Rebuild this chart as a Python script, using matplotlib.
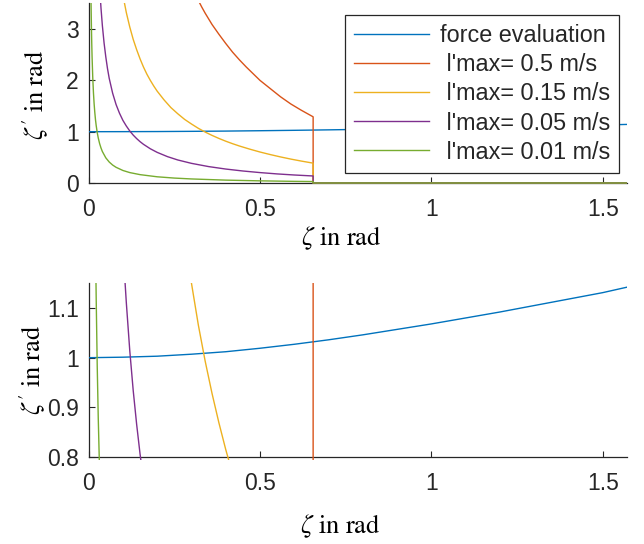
import numpy as np
import matplotlib
matplotlib.use('Agg')
import matplotlib.pyplot as plt
from matplotlib.patches import Rectangle

# ---------------- data ----------------
zeta_force = [0, 0.1, 0.2, 0.3, 0.4, 0.5, 0.6, 0.7, 0.8, 0.9, 1.0, 1.1, 1.2, 1.3,
              1.4, 1.5, 1.5708]
force_eval = [1.000, 1.001, 1.003, 1.007, 1.012, 1.019, 1.027, 1.036, 1.046, 1.057,
              1.068, 1.080, 1.092, 1.105, 1.118, 1.131, 1.142]

zeta_05 = [0.32, 0.33, 0.34, 0.36, 0.38, 0.40, 0.42, 0.44, 0.46, 0.48, 0.50, 0.53,
           0.56, 0.59, 0.62, 0.655, 0.655, 1.5708]
lmax_05 = [3.56, 3.43, 3.31, 3.09, 2.90, 2.72, 2.55, 2.40, 2.26, 2.13, 2.00, 1.84,
           1.68, 1.54, 1.42, 1.29, 0, 0]

zeta_015 = [0.10, 0.105, 0.11, 0.12, 0.13, 0.14, 0.15, 0.16, 0.17, 0.18, 0.19, 0.20,
            0.22, 0.24, 0.26, 0.28, 0.30, 0.32, 0.34, 0.36, 0.38, 0.40, 0.42, 0.44,
            0.47, 0.50, 0.53, 0.56, 0.59, 0.62, 0.655, 0.655, 1.5708]
lmax_015 = [3.66, 3.49, 3.32, 3.04, 2.80, 2.60, 2.42, 2.26, 2.12, 2.00, 1.89, 1.79,
            1.62, 1.47, 1.35, 1.24, 1.15, 1.066, 0.993, 0.928, 0.869, 0.815, 0.766,
            0.721, 0.660, 0.604, 0.554, 0.508, 0.466, 0.428, 0.387, 0, 0]

zeta_005 = [0.034, 0.036, 0.04, 0.045, 0.05, 0.055, 0.06, 0.07, 0.08, 0.09, 0.10,
            0.11, 0.12, 0.13, 0.14, 0.15, 0.16, 0.18, 0.20, 0.23, 0.26, 0.30, 0.35,
            0.40, 0.45, 0.50, 0.55, 0.60, 0.655, 0.655, 1.5708]
lmax_005 = [3.62, 3.41, 3.07, 2.73, 2.46, 2.23, 2.04, 1.75, 1.53, 1.36, 1.22,
            1.11, 1.014, 0.934, 0.866, 0.806, 0.754, 0.667, 0.597, 0.514, 0.449,
            0.383, 0.320, 0.272, 0.234, 0.203, 0.177, 0.156, 0.137, 0, 0]

zeta_001 = [0.007, 0.008, 0.009, 0.010, 0.012, 0.014, 0.016, 0.018, 0.020, 0.022,
            0.025, 0.028, 0.032, 0.036, 0.04, 0.05, 0.06, 0.07, 0.08, 0.10, 0.12,
            0.15, 0.20, 0.25, 0.30, 0.40, 0.50, 0.60, 0.655, 0.655, 1.5708]
lmax_001 = [3.51, 3.08, 2.73, 2.46, 2.05, 1.76, 1.54, 1.37, 1.23, 1.12,
            0.984, 0.879, 0.768, 0.683, 0.614, 0.491, 0.409, 0.350, 0.306, 0.244,
            0.203, 0.163, 0.121, 0.096, 0.079, 0.056, 0.042, 0.032, 0.028, 0, 0]

series_labels = ['force evaluation', " l'max= 0.5 m/s", " l'max= 0.15 m/s",
                 " l'max= 0.05 m/s", " l'max= 0.01 m/s"]
series_colors = ['#0072BD', '#D95319', '#EDB120', '#7E2F8E', '#77AC30']

xticks = [0, 0.5, 1, 1.5]
xtick_labels = ['0', '0.5', '1', '1.5']
yticks_top = [0, 1, 2, 3]
ytick_labels_top = ['0', '1', '2', '3']
yticks_bot = [0.8, 0.9, 1.0, 1.1]
ytick_labels_bot = ['0.8', '0.9', '1', '1.1']

xlabel_text = r'$\zeta\ \mathrm{in}\ \mathrm{rad}$'
ylabel_text = r"$\zeta'\ \mathrm{in}\ \mathrm{rad}$"

# ---------------- figure ----------------
plt.rcParams['font.family'] = ['Liberation Sans', 'DejaVu Sans']
plt.rcParams['mathtext.fontset'] = 'stix'

W, H = 644, 544
fig = plt.figure(figsize=(W / 100, H / 100), dpi=100)


def axes_px(l, r, t, b):
    return fig.add_axes([l / W, 1 - b / H, (r - l) / W, (b - t) / H])


ax1 = axes_px(88.65, 627, 3.45, 183)
ax2 = axes_px(88.65, 627, 283.2, 457)

xs = [zeta_force, zeta_05, zeta_015, zeta_005, zeta_001]
ys = [force_eval, lmax_05, lmax_015, lmax_005, lmax_001]

DARK = '#262626'
for ax, ylim, yt, ytl in ((ax1, (0, 3.5), yticks_top, ytick_labels_top),
                          (ax2, (0.8, 1.15), yticks_bot, ytick_labels_bot)):
    clip = Rectangle((0, -0.02), 1, 1.02, transform=ax.transAxes)
    for x, y, c, lab in zip(xs, ys, series_colors, series_labels):
        ln, = ax.plot(x, y, color=c, lw=1.0, label=lab, zorder=3)
        ln.set_clip_path(clip)
    ax.set_xlim(0, np.pi / 2)
    ax.set_ylim(*ylim)
    ax.set_xticks(xticks)
    ax.set_xticklabels(xtick_labels)
    ax.set_yticks(yt)
    ax.set_yticklabels(ytl)
    for s in ('top', 'right'):
        ax.spines[s].set_visible(False)
    for s in ('left', 'bottom'):
        ax.spines[s].set_color(DARK)
        ax.spines[s].set_linewidth(0.9)
    ax.tick_params(direction='in', length=4, width=0.8, color=DARK,
                   labelsize=16.5, labelcolor=DARK)
    ax.tick_params(axis='x', pad=10.5)
    ax.tick_params(axis='y', pad=7)

leg = ax1.legend(loc='upper left', bbox_to_anchor=(0.4762, 0.9357),
                 borderaxespad=0, fontsize=16.8, handlelength=3.2,
                 handletextpad=0.45, labelspacing=0.26, borderpad=0.4,
                 fancybox=False, framealpha=1, edgecolor=DARK)
leg.get_frame().set_linewidth(0.9)
for t in leg.get_texts():
    t.set_color(DARK)

lab_kw = dict(fontsize=19, color='black')
fig.text(341 / W, 1 - 245 / H, xlabel_text, ha='center', va='baseline', **lab_kw)
fig.text(340 / W, 1 - 533 / H, xlabel_text, ha='center', va='baseline', **lab_kw)
fig.text(36 / W, 1 - 94.5 / H, ylabel_text, ha='center', va='center',
         rotation=90, **lab_kw)
fig.text(33 / W, 1 - 370 / H, ylabel_text, ha='center', va='center',
         rotation=90, **lab_kw)

fig.savefig('out.png', dpi=100)
